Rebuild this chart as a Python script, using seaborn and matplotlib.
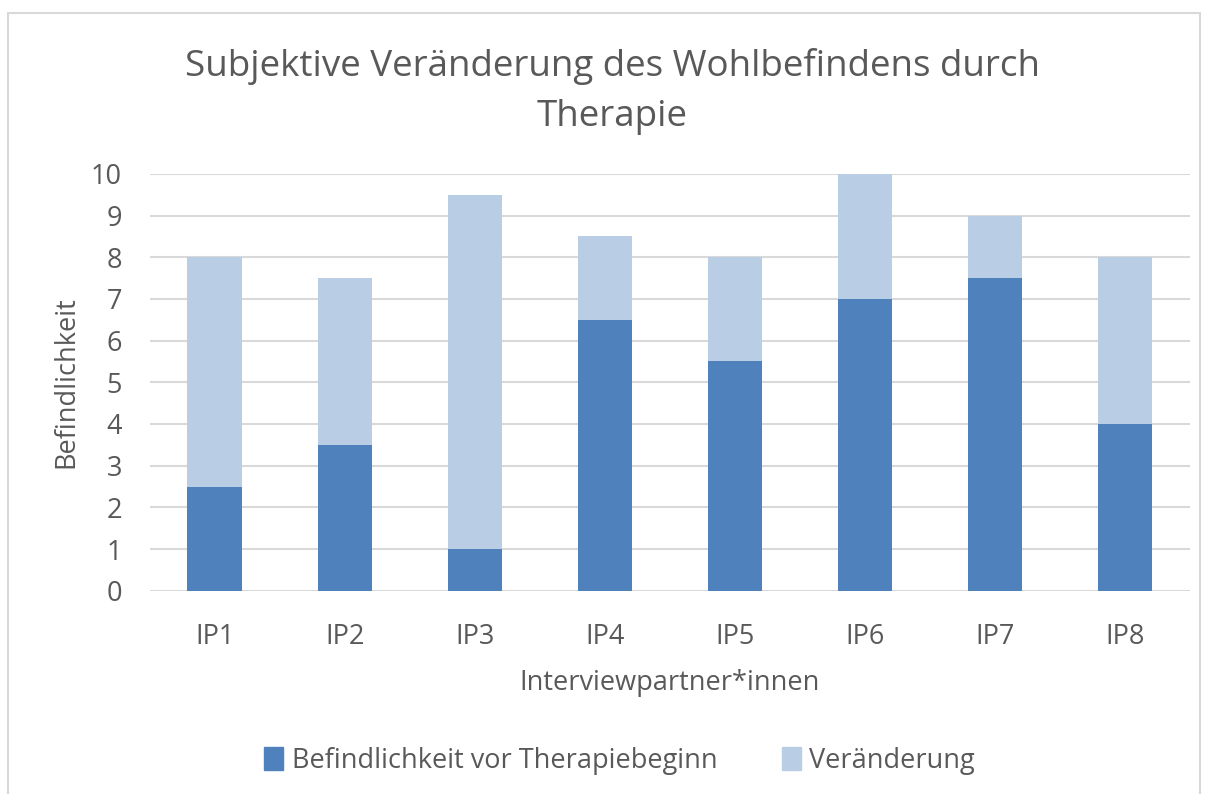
import matplotlib
matplotlib.use("Agg")
import matplotlib.pyplot as plt
import matplotlib.patches as mpatches
import pandas as pd
import seaborn as sns

participants = ["IP1", "IP2", "IP3", "IP4", "IP5", "IP6", "IP7", "IP8"]
before_therapy = [2.5, 3.5, 1.0, 6.5, 5.5, 7.0, 7.5, 4.0]
change = [5.5, 4.0, 8.5, 2.0, 2.5, 3.0, 1.5, 4.0]
y_ticks = list(range(0, 11))

DARK = "#4F81BD"
LIGHT = "#B9CDE5"
TEXT = "#595959"
GRID = "#D9D9D9"

df = pd.DataFrame({"ip": participants, "before": before_therapy, "change": change})
df["total"] = df["before"] + df["change"]

sns.set_theme(style="white")
plt.rcParams["font.family"] = ["Open Sans", "DejaVu Sans"]

fig = plt.figure(figsize=(12.08, 7.94), dpi=100)
ax = fig.add_axes([0.124, 0.256, 0.861, 0.525])

# light bar = total after therapy, dark bar drawn on top = starting value
sns.barplot(data=df, x="ip", y="total", color=LIGHT, width=0.42, saturation=1,
            linewidth=0, ax=ax, zorder=3)
sns.barplot(data=df, x="ip", y="before", color=DARK, width=0.42, saturation=1,
            linewidth=0, ax=ax, zorder=4)

ax.set_ylim(0, 10)
ax.set_xlim(-0.5, len(participants) - 0.5)
ax.set_yticks(y_ticks)
ax.yaxis.grid(True, color=GRID, linewidth=1.5, zorder=0)
ax.set_axisbelow(True)
for s in ax.spines.values():
    s.set_visible(False)
ax.tick_params(axis="both", length=0, labelsize=19.5, labelcolor=TEXT)
ax.tick_params(axis="y", pad=20)
ax.tick_params(axis="x", pad=23)

ax.set_xlabel("Interviewpartner*innen", fontsize=19.5, color=TEXT, labelpad=13)
ax.set_ylabel("Befindlichkeit", fontsize=19.5, color=TEXT, labelpad=8)

fig.suptitle("Subjektive Veränderung des Wohlbefindens durch\nTherapie",
             x=0.507, y=0.94, fontsize=26.5, color=TEXT, linespacing=1.52)

handles = [mpatches.Patch(color=DARK, label="Befindlichkeit vor Therapiebeginn"),
           mpatches.Patch(color=LIGHT, label="Veränderung")]
leg = fig.legend(handles=handles, loc="center", bbox_to_anchor=(0.513, 0.042), ncol=2,
                 frameon=False, fontsize=19.5, handlelength=0.7, handleheight=0.9,
                 handletextpad=0.3, columnspacing=2.4)
for t in leg.get_texts():
    t.set_color(TEXT)

border = mpatches.Rectangle((0.0066, -0.02), 0.987, 1.004, transform=fig.transFigure,
                            fill=False, edgecolor=GRID, linewidth=1.5)
fig.patches.append(border)

fig.savefig("out.png", dpi=100)
